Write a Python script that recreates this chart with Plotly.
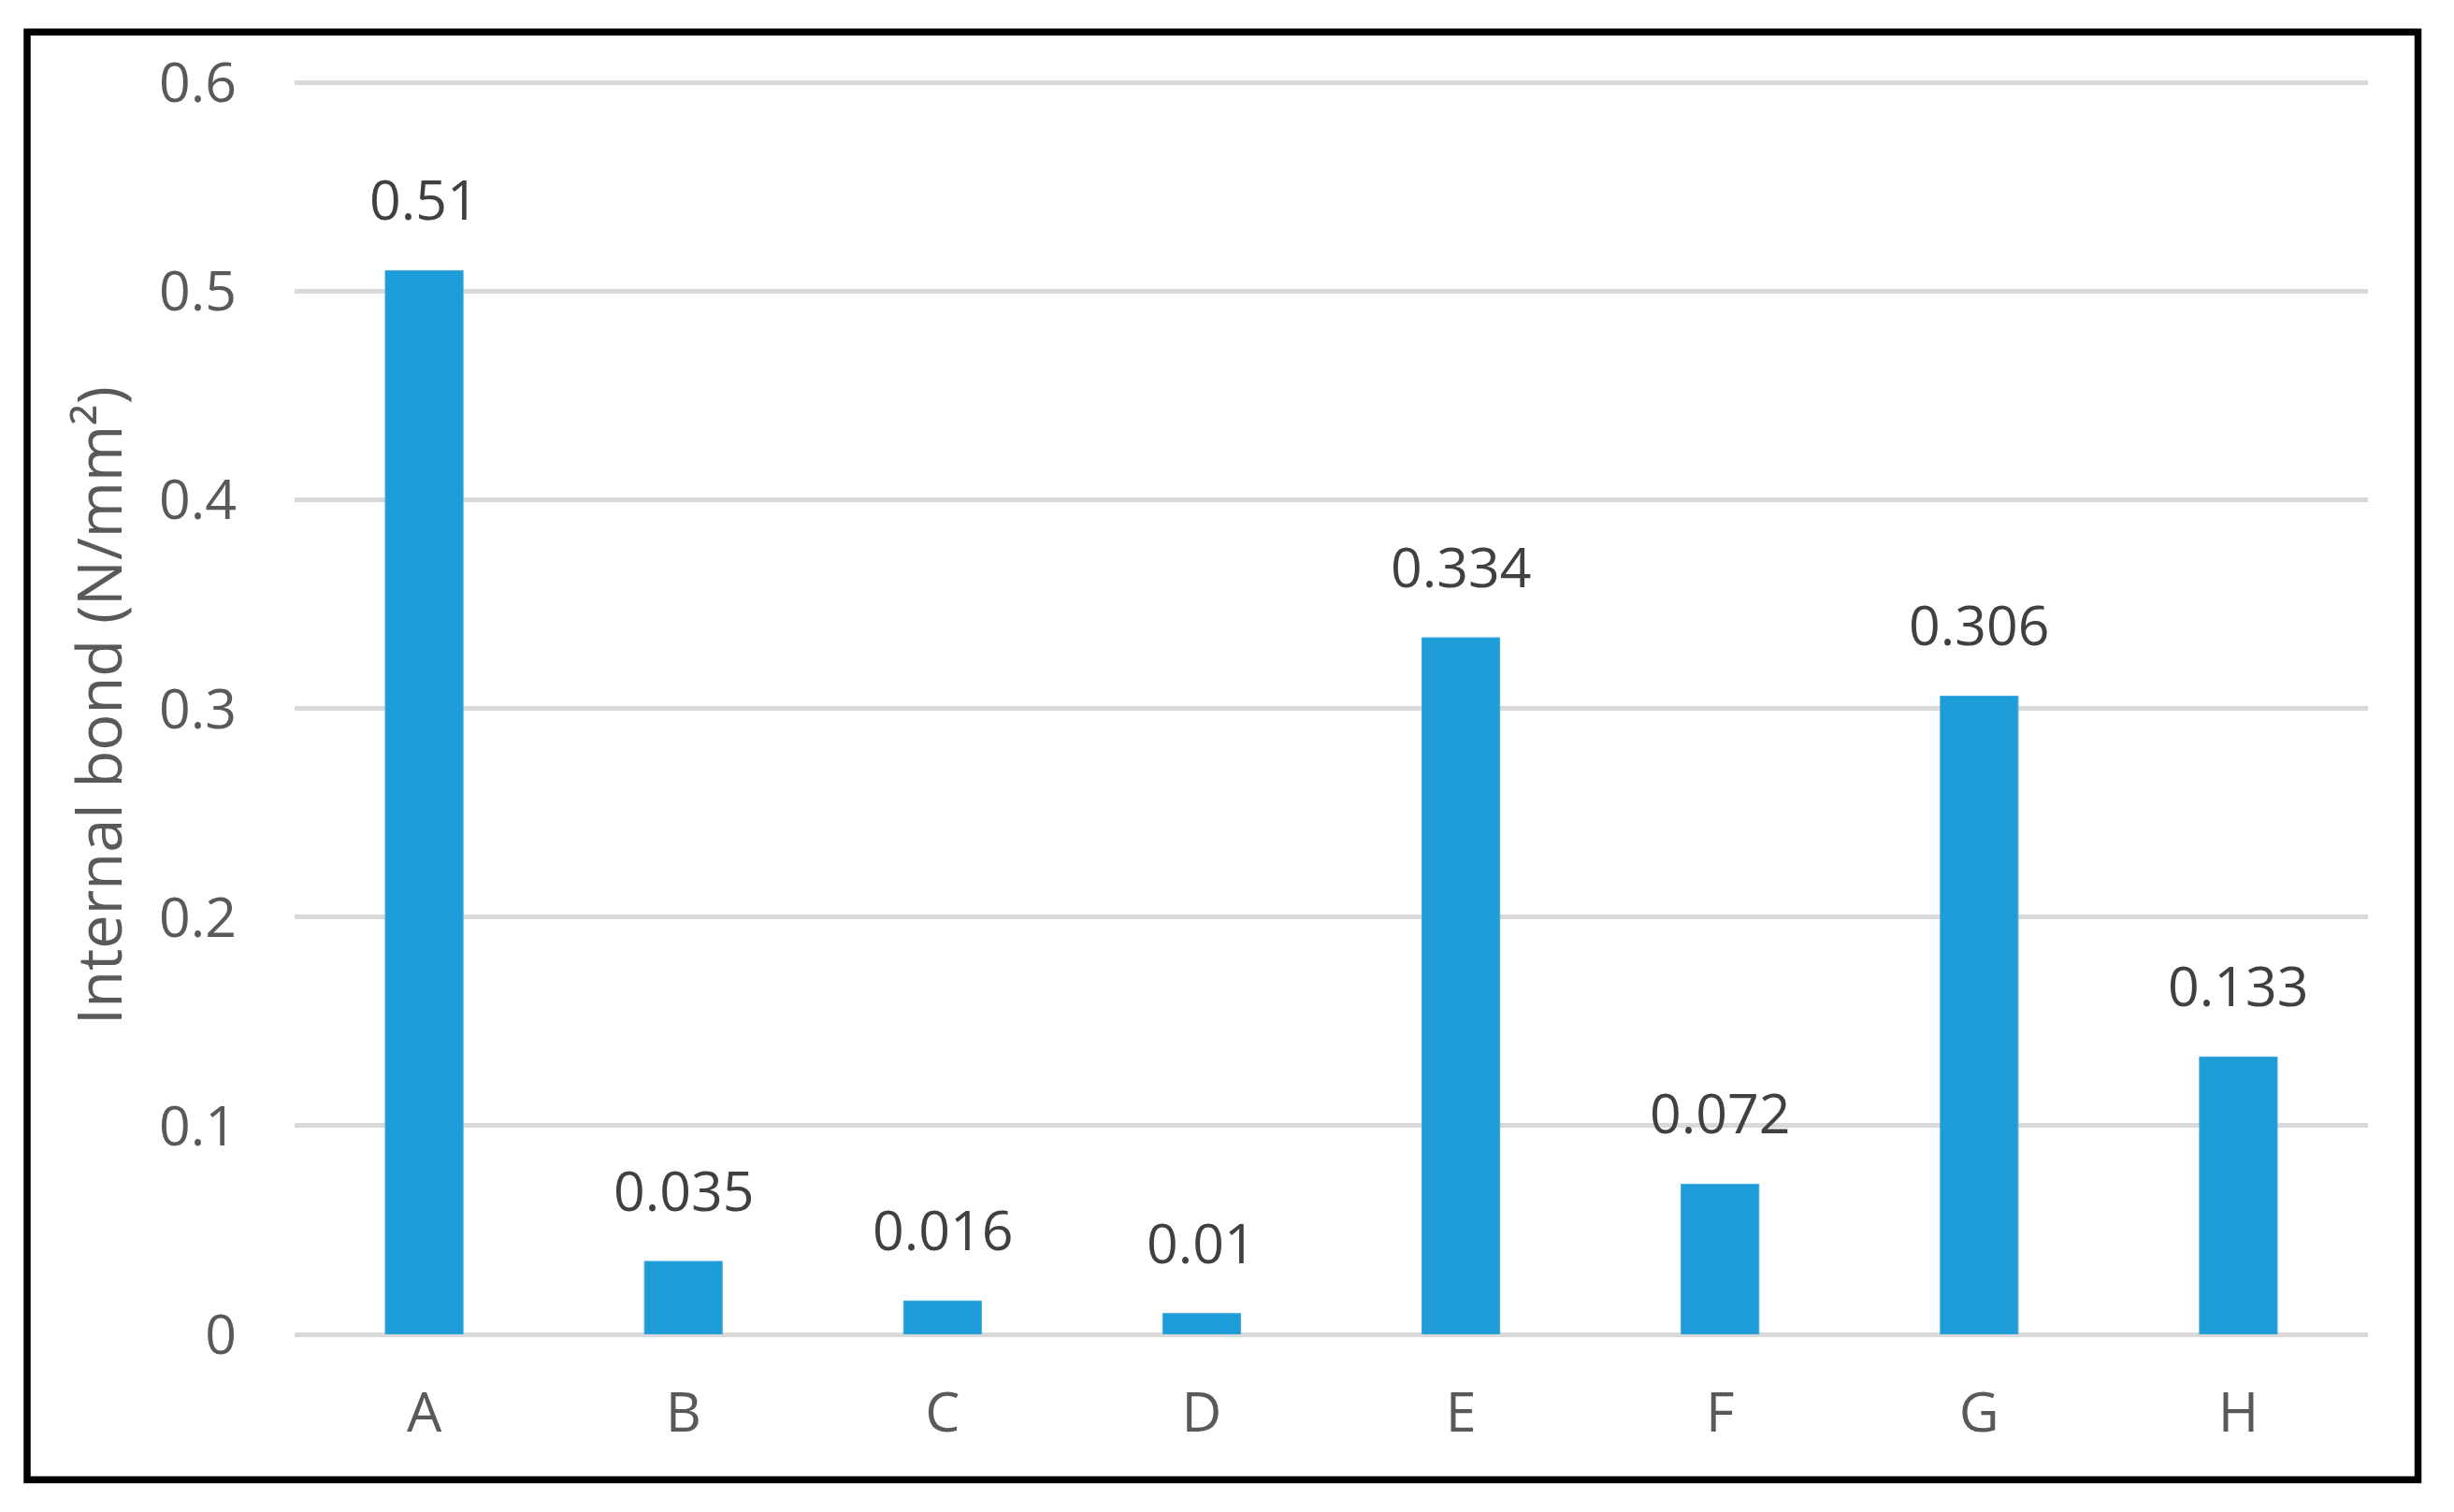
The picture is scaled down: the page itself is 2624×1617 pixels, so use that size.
import plotly.graph_objects as go

categories = ["A", "B", "C", "D", "E", "F", "G", "H"]
internal_bond = [0.51, 0.035, 0.016, 0.01, 0.334, 0.072, 0.306, 0.133]
value_labels = ["0.51", "0.035", "0.016", "0.01", "0.334", "0.072", "0.306", "0.133"]
y_tick_values = [0, 0.1, 0.2, 0.3, 0.4, 0.5, 0.6]
y_tick_labels = ["0", "0.1", "0.2", "0.3", "0.4", "0.5", "0.6"]

OFF = 8  # browser body margin
W, H = 2624 - 2 * OFF, 1617 - 2 * OFF
# target pixel positions in the page, converted to figure coordinates
L, R = 315 - OFF, 2532 - OFF
Y0, Y06 = 1427 - OFF, 89 - OFF     # pixel of y=0 and y=0.6
YMAX = 0.603
B = Y0
T = Y0 - (Y0 - Y06) / 0.6 * YMAX

FONT = "Open Sans"
TICK_COLOR = "#595959"
LABEL_COLOR = "#404040"
BAR_COLOR = "#1E9CD8"

fig = go.Figure()
fig.add_trace(go.Bar(
    x=categories,
    y=internal_bond,
    marker=dict(color=BAR_COLOR, line=dict(color="#40AAE0", width=1)),
    hoverinfo="x+y",
))

for c, v, t in zip(categories, internal_bond, value_labels):
    fig.add_annotation(
        x=c, y=v, text=t, showarrow=False,
        xanchor="center", yanchor="middle", yshift=77,
        font=dict(family=FONT, size=59, color=LABEL_COLOR),
    )

def px2paper_x(px):
    return (px - OFF - L) / (R - L)

def px2paper_y(py):
    return (B - (py - OFF)) / (B - T)

# outer black frame
fig.add_shape(
    type="rect", xref="paper", yref="paper",
    x0=px2paper_x(29), x1=px2paper_x(2585.5),
    y0=px2paper_y(1582.5), y1=px2paper_y(34.5),
    line=dict(color="black", width=7.5),
    fillcolor="rgba(0,0,0,0)", layer="above",
)

fig.update_layout(
    width=W, height=H,
    margin=dict(l=L, r=W - R, t=T, b=H - B, autoexpand=False),
    paper_bgcolor="white", plot_bgcolor="white",
    bargap=0.7,
    showlegend=False,
    font=dict(family=FONT, color=TICK_COLOR),
)
fig.update_xaxes(
    type="category",
    showgrid=False, showline=False, zeroline=False,
    ticks="", ticklabelstandoff=44,
    tickfont=dict(family=FONT, size=59, color=TICK_COLOR),
)
fig.update_yaxes(
    range=[0, YMAX],
    tickvals=y_tick_values, ticktext=y_tick_labels,
    showgrid=True, gridcolor="#D9D9D9", gridwidth=5,
    zeroline=True, zerolinecolor="#D9D9D9", zerolinewidth=5,
    showline=False, ticks="", ticklabelstandoff=61,
    tickfont=dict(family=FONT, size=59, color=TICK_COLOR),
    title=dict(text="Internal bond (N/mm²)", standoff=18,
               font=dict(family=FONT, size=65, color=TICK_COLOR)),
)

fig.write_html("out.html")
